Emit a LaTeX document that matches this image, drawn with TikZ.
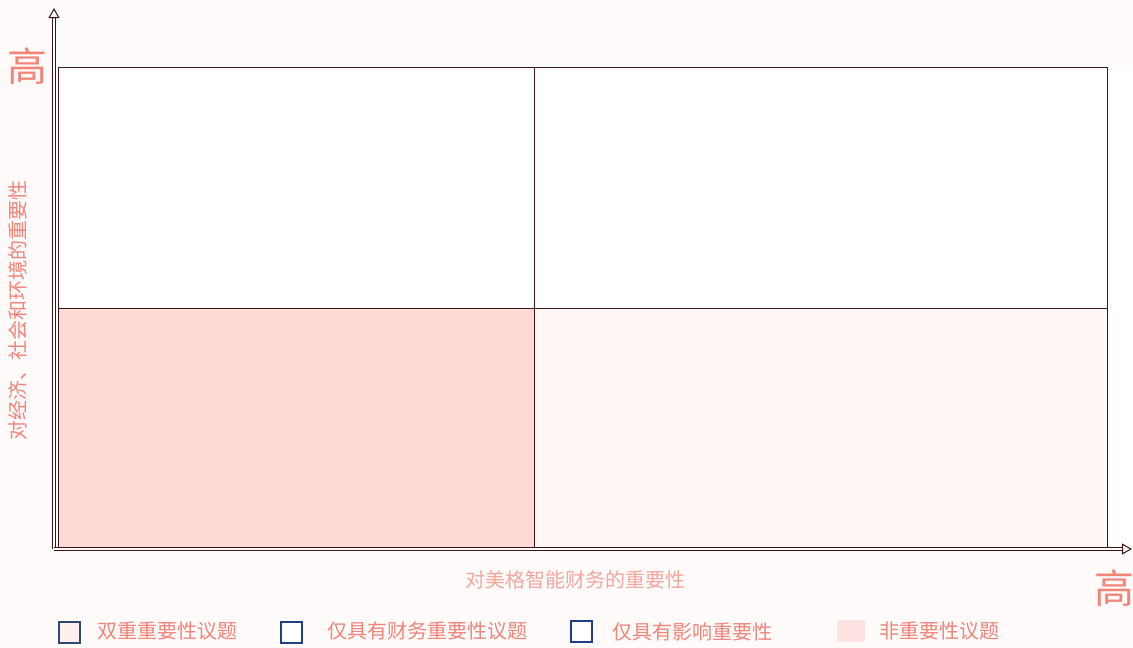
\documentclass[tikz,border=0pt]{standalone}
\usepackage{fontspec}
\newfontfamily\cjk{Noto Sans CJK SC}
\usetikzlibrary{arrows.meta}
\definecolor{salmon}{HTML}{F28478}
\definecolor{lsalmon}{HTML}{F5A69C}
\definecolor{brd}{HTML}{3A1416}
\definecolor{qpink}{HTML}{FDDBD5}
\definecolor{qlight}{HTML}{FFF7F5}
\definecolor{bgpink}{HTML}{FEF3F1}
\definecolor{navy}{HTML}{2E4A6E}
\definecolor{blue}{HTML}{1F3F8A}
\definecolor{lgpink}{HTML}{FDE3E2}
\tikzset{
  quad/.style={draw=brd, line width=1.3pt},
  axis/.style={draw=brd, double=white, double distance=2.2pt, line width=1pt, -{Triangle[open,length=10pt,width=11pt]}},
  lbl/.style={font=\cjk\fontsize{20}{22}\selectfont, text=salmon, inner sep=0pt},
  big/.style={font=\cjk\fontsize{40}{44}\selectfont, text=salmon, inner sep=0pt},
  legbox/.style={line width=2pt, minimum width=21pt, minimum height=21pt, inner sep=0pt},
}
\begin{document}
\begin{tikzpicture}[x=1pt,y=-1pt]
\useasboundingbox (0,0) rectangle (1133,648);
\fill[white] (0,0) rectangle (1133,648);
\fill[bgpink,opacity=0.35] (0,0) rectangle (60,648);
\fill[bgpink,opacity=0.3] (60,550) rectangle (1133,648);
\fill[bgpink,opacity=0.3] (60,0) rectangle (1133,66);
% quadrants
\node[quad, fill=white, minimum width=476pt, minimum height=241pt, anchor=north west, inner sep=0pt] (q1) at (58,67) {};
\node[quad, fill=white, minimum width=573pt, minimum height=241pt, anchor=north west, inner sep=0pt] (q2) at (534,67) {};
\node[quad, fill=qpink, minimum width=476pt, minimum height=240pt, anchor=north west, inner sep=0pt] (q3) at (58,308) {};
\node[quad, fill=qlight, minimum width=573pt, minimum height=240pt, anchor=north west, inner sep=0pt] (q4) at (534,308) {};
% axes
\coordinate (o) at (54,549);
\coordinate (ytop) at (54,8);
\coordinate (xend) at (1132,549);
\draw[axis] (o) -- (ytop);
\draw[axis] (o) -- (xend);
% labels
\node[big] (hy) at (28,66) {高};
\node[big] (hx) at (1114,588) {高};
\node[lbl, rotate=90] (ylab) at (18,310) {对经济、社会和环境的重要性};
\node[lbl, text=lsalmon] (xlab) at (575,580) {对美格智能财务的重要性};
% legend
\node[legbox, draw=navy, fill=lgpink!60] (l1) at (69,632) {};
\node[lbl, anchor=west] (t1) at (97,631) {双重重要性议题};
\node[legbox, draw=blue, fill=white] (l2) at (291,632) {};
\node[lbl, anchor=west] (t2) at (327,631) {仅具有财务重要性议题};
\node[legbox, draw=blue, fill=white] (l3) at (581,631) {};
\node[lbl, anchor=west] (t3) at (612,632) {仅具有影响重要性};
\node[fill=lgpink, minimum width=28pt, minimum height=22pt, inner sep=0pt] (l4) at (851,631) {};
\node[lbl, anchor=west] (t4) at (879,631) {非重要性议题};
\end{tikzpicture}
\end{document}
